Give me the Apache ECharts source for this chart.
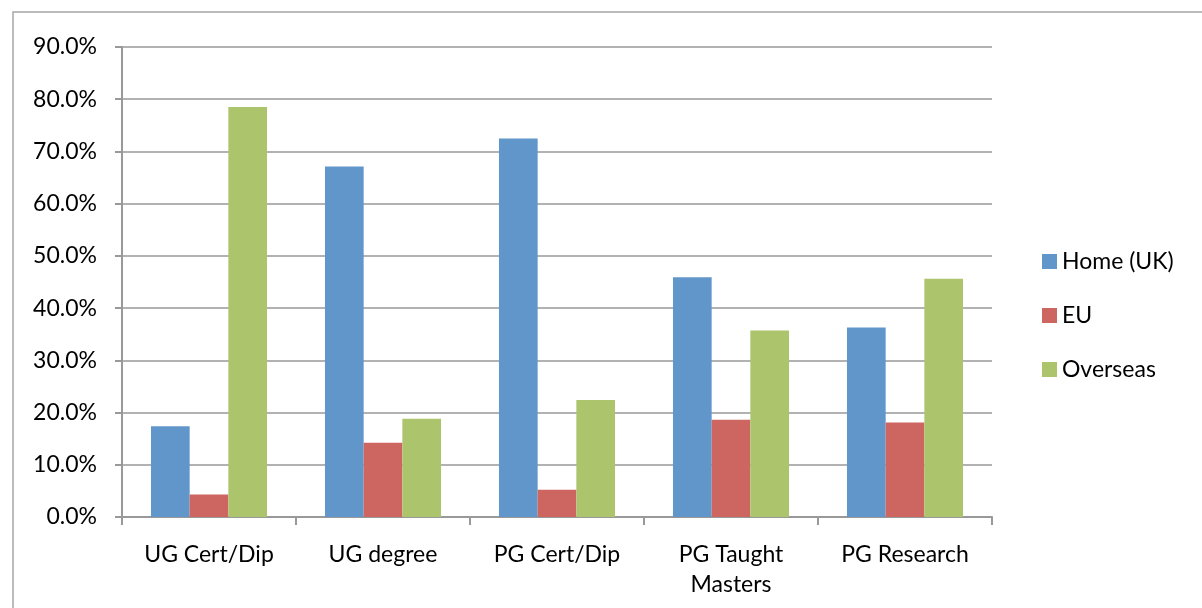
<!DOCTYPE html>
<html>
<head>
<meta charset="utf-8">
<script src="https://cdn.jsdelivr.net/npm/echarts@6/dist/echarts.min.js"></script>
<style>
html,body{margin:0;padding:0;background:#fff;}
#c{width:1202px;height:608px;}
</style>
</head>
<body>
<div id="c"></div>
<script>
const categories = ['UG Cert/Dip', 'UG degree', 'PG Cert/Dip', 'PG Taught\nMasters', 'PG Research'];
const seriesNames = ['Home (UK)', 'EU', 'Overseas'];
const homeUK = [17.4, 67.1, 72.5, 45.9, 36.3];
const eu = [4.3, 14.2, 5.2, 18.6, 18.1];
const overseas = [78.5, 18.8, 22.4, 35.7, 45.6];
const yMin = 0, yMax = 90, yStep = 10;
const colors = ['#6196CA', '#CD6660', '#ACC46C'];

const chart = echarts.init(document.getElementById('c'), null, {renderer: 'canvas'});
const font = 'Lato, "Open Sans", sans-serif';
const seriesData = [homeUK, eu, overseas];
chart.setOption({
  animation: false,
  backgroundColor: '#fff',
  graphic: [{
    type: 'rect',
    shape: {x: 13, y: 12, width: 1200, height: 620},
    style: {fill: 'none', stroke: '#a6a6a6', lineWidth: 1.5},
    silent: true
  }],
  grid: {left: 122, right: 210, top: 47, bottom: 91, containLabel: false},
  legend: {
    orient: 'vertical',
    left: 1042,
    top: 250,
    padding: 0,
    itemWidth: 15,
    itemHeight: 15,
    itemGap: 31,
    icon: 'rect',
    textStyle: {fontFamily: font, fontSize: 23, color: '#000'},
    data: seriesNames
  },
  xAxis: {
    type: 'category',
    data: categories,
    axisLine: {lineStyle: {color: '#999', width: 2}},
    axisTick: {show: true, length: 8, lineStyle: {color: '#999', width: 2}, alignWithLabel: false},
    axisLabel: {fontFamily: font, fontSize: 23, color: '#000', margin: 23, lineHeight: 30, interval: 0}
  },
  yAxis: {
    type: 'value',
    min: yMin, max: yMax, interval: yStep,
    axisLine: {show: true, lineStyle: {color: '#999', width: 2}},
    axisTick: {show: true, length: 7, lineStyle: {color: '#999', width: 2}},
    splitLine: {lineStyle: {color: '#999', width: 1.5}},
    axisLabel: {fontFamily: font, fontSize: 23, color: '#000', margin: 25,
      formatter: v => v.toFixed(1) + '%'}
  },
  series: seriesNames.map((n, i) => ({
    name: n,
    type: 'bar',
    data: seriesData[i],
    barGap: '0%',
    barCategoryGap: '33.3%',
    itemStyle: {color: colors[i]}
  }))
});
</script>
</body>
</html>
